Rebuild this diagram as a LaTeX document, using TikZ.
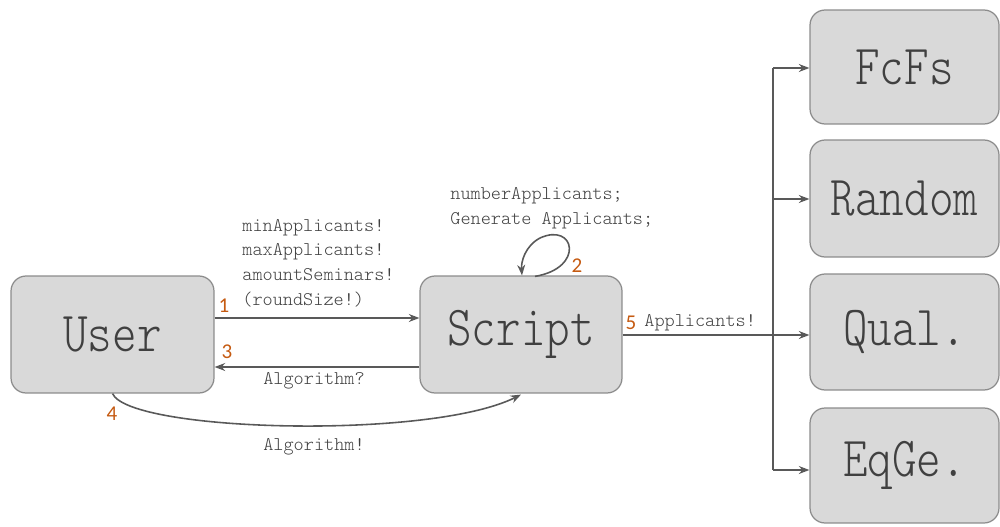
\documentclass[tikz,border=0pt]{standalone}
\usepackage{fontspec}
\newfontfamily\numfont{Carlito}
\newfontfamily\lightmono{Latin Modern Mono Light}
\usetikzlibrary{arrows.meta,calc}
\definecolor{boxfill}{HTML}{D9D9D9}
\definecolor{boxline}{HTML}{8C8C8C}
\definecolor{txt}{HTML}{404040}
\definecolor{conn}{HTML}{595959}
\definecolor{num}{HTML}{C55A11}
\newcommand{\bigtxt}[1]{\scalebox{0.95}[1.15]{#1}}
\tikzset{
  box/.style={draw=boxline, line width=0.7pt, fill=boxfill, rounded corners=0.3cm,
    text=txt, font=\lightmono\fontsize{28}{30}\selectfont, inner sep=0pt},
  conn/.style={draw=conn, line width=0.9pt, -{Stealth[length=6pt,width=4.5pt]}},
  plain/.style={draw=conn, line width=0.9pt},
  lbl/.style={text=txt, font=\lightmono\fontsize{11}{14}\selectfont, inner sep=0pt, align=left},
  numlbl/.style={text=num, font=\numfont\fontsize{12}{14}\selectfont, inner sep=0pt},
}
\begin{document}
\begin{tikzpicture}[x=0.02cm, y=-0.02cm]
\useasboundingbox (0,0) rectangle (1000,527);
% boxes
\node[box, minimum width=4.06cm, minimum height=2.34cm] (user) at (112.5,334.5) {\bigtxt{User}};
\node[box, minimum width=4.04cm, minimum height=2.34cm] (script) at (521,334.5) {\bigtxt{Script}};
\node[box, minimum width=3.78cm, minimum height=2.28cm] (fcfs) at (904.5,67) {\bigtxt{FcFs}};
\node[box, minimum width=3.78cm, minimum height=2.34cm] (random) at (904.5,198.5) {\bigtxt{Random}};
\node[box, minimum width=3.78cm, minimum height=2.32cm] (qual) at (904.5,332) {\bigtxt{Qual.}};
\node[box, minimum width=3.78cm, minimum height=2.30cm] (eqge) at (904.5,465.5) {\bigtxt{EqGe.}};
% arrow 1 and 3
\draw[conn] (user.east |- 0,318) -- (script.west |- 0,318);
\draw[conn] (script.west |- 0,367) -- (user.east |- 0,367);
% arrow 4
\draw[conn] (user.south) .. controls (130,432) and (430,440) .. ($(script.south)+(0,1)$);
% loop 2
\coordinate (ls) at ($(script.north)+(14,1)$);
\coordinate (lt) at ($(script.north)+(1,0)$);
\draw[conn] (ls) .. controls (585,268) and (575,222) .. (540,238) .. controls (525,246) and (521,262) .. (lt);
% arrow 5 and distribution
\coordinate (trunk) at (773,335);
\coordinate (ttop) at (773,68);
\coordinate (tbot) at (773,470);
\draw[plain] (script.east |- trunk) -- (trunk);
\draw[plain] (ttop) -- (tbot);
\draw[conn] (ttop) -- (fcfs.west |- ttop);
\draw[conn] (773,199) -- (random.west |- 0,199);
\draw[conn] (trunk) -- (qual.west |- trunk);
\draw[conn] (tbot) -- (eqge.west |- tbot);
% labels
\node[lbl, anchor=west] (l1) at (242,263) {minApplicants!\\maxApplicants!\\amountSeminars!\\(roundSize!)};
\node[lbl] (l3) at (314,381) {Algorithm?};
\node[lbl] (l4) at (314,447) {Algorithm!};
\node[lbl, anchor=west] (l2) at (450,208) {numberApplicants;\\Generate Applicants;};
\node[lbl, anchor=west] (l5) at (644,323) {Applicants!};
\node[numlbl] (n1) at (224,306) {1};
\node[numlbl] (n2) at (577,266) {2};
\node[numlbl] (n3) at (227,352) {3};
\node[numlbl] (n4) at (112,414) {4};
\node[numlbl] (n5) at (631,323) {5};
\end{tikzpicture}
\end{document}
